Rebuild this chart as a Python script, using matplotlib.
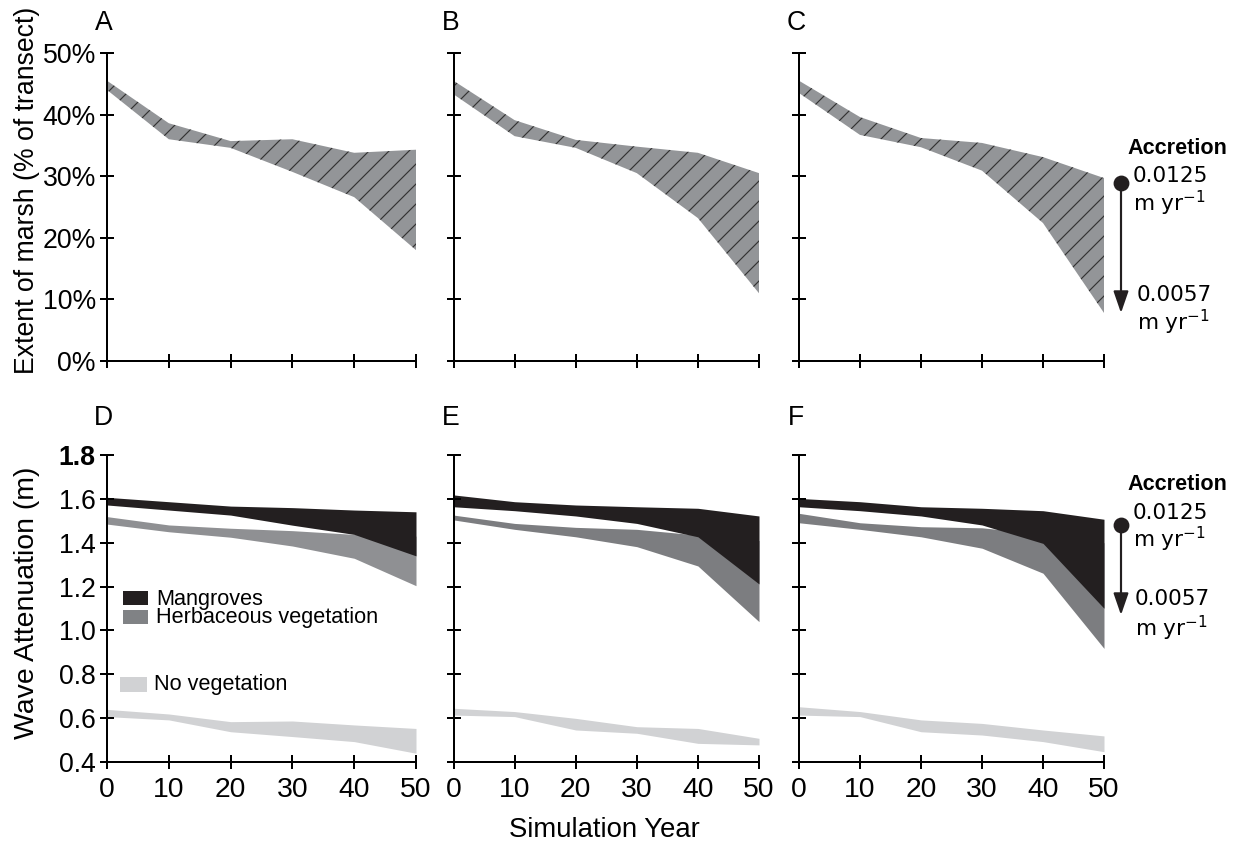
import matplotlib
matplotlib.use("Agg")
import matplotlib.pyplot as plt
from matplotlib.patches import Rectangle, FancyArrowPatch
from matplotlib.lines import Line2D
from matplotlib.ticker import FuncFormatter

W, H, DPI = 1243, 841, 120
plt.rcParams['font.family'] = ['Liberation Sans', 'DejaVu Sans']
plt.rcParams['hatch.color'] = '#333333'
plt.rcParams['hatch.linewidth'] = 0.7

years = [0, 10, 20, 30, 40, 50]

# extent of marsh (% of transect), band between high and low accretion
marsh_a_upper = [45.5, 38.6, 35.7, 36.0, 33.8, 34.3]
marsh_a_lower = [44.0, 36.0, 34.6, 30.7, 26.6, 18.0]
marsh_b_upper = [45.5, 39.1, 35.9, 34.8, 33.8, 30.5]
marsh_b_lower = [43.3, 36.5, 34.6, 30.5, 23.2, 11.0]
marsh_c_upper = [45.5, 39.6, 36.2, 35.4, 33.1, 29.7]
marsh_c_lower = [43.5, 36.7, 34.7, 30.9, 22.4, 7.8]

# wave attenuation (m)
mangrove_d_upper = [1.607, 1.587, 1.567, 1.560, 1.549, 1.541]
mangrove_d_lower = [1.572, 1.549, 1.526, 1.480, 1.438, 1.340]
mangrove_e_upper = [1.618, 1.587, 1.572, 1.564, 1.557, 1.522]
mangrove_e_lower = [1.564, 1.546, 1.522, 1.488, 1.427, 1.212]
mangrove_f_upper = [1.602, 1.587, 1.564, 1.557, 1.546, 1.507]
mangrove_f_lower = [1.564, 1.546, 1.522, 1.481, 1.397, 1.101]

herb_d_upper = [1.519, 1.481, 1.466, 1.455, 1.438, 1.430]
herb_d_lower = [1.485, 1.450, 1.425, 1.385, 1.329, 1.204]
herb_e_upper = [1.526, 1.488, 1.470, 1.461, 1.435, 1.410]
herb_e_lower = [1.504, 1.461, 1.427, 1.382, 1.294, 1.040]
herb_f_upper = [1.534, 1.491, 1.473, 1.468, 1.440, 1.400]
herb_f_lower = [1.491, 1.461, 1.427, 1.375, 1.261, 0.918]

noveg_d_upper = [0.640, 0.619, 0.584, 0.587, 0.569, 0.553]
noveg_d_lower = [0.607, 0.592, 0.538, 0.516, 0.493, 0.440]
noveg_e_upper = [0.645, 0.630, 0.599, 0.561, 0.553, 0.508]
noveg_e_lower = [0.614, 0.607, 0.546, 0.531, 0.485, 0.478]
noveg_f_upper = [0.652, 0.630, 0.592, 0.576, 0.546, 0.519]
noveg_f_lower = [0.614, 0.607, 0.538, 0.523, 0.493, 0.447]

marsh_ticks = [0, 10, 20, 30, 40, 50]
wave_ticks = [0.4, 0.6, 0.8, 1.0, 1.2, 1.4, 1.6, 1.8]

BLACK = '#231f20'
HERB = ['#8f9093', '#7c7d80', '#7c7d80']
NOVEG = '#d1d2d4'
MARSH = '#939598'


def px(x, y):
    return x / W, 1 - y / H


def style_axis(ax):
    for side in ['top', 'right']:
        ax.spines[side].set_visible(False)
    for side in ['left', 'bottom']:
        ax.spines[side].set_linewidth(1.2)
        ax.spines[side].set_color('black')
    ax.tick_params(direction='inout', length=8.4, width=1.2, labelsize=16)
    ax.tick_params(axis='y', pad=2.5)
    ax.tick_params(axis='x', pad=5)
    ax.set_xlim(0, 50)
    ax.set_xticks(years)


fig = plt.figure(figsize=(W / DPI, H / DPI), dpi=DPI)

cols = [(107, 309), (453.5, 305.5), (799, 305)]
top_axes = [fig.add_axes([l / W, (H - 361) / H, w / W, 308 / H]) for l, w in cols]
bot_axes = [fig.add_axes([l / W, (H - 762) / H, w / W, 307 / H]) for l, w in cols]

marsh = [(marsh_a_upper, marsh_a_lower), (marsh_b_upper, marsh_b_lower),
         (marsh_c_upper, marsh_c_lower)]
for i, ax in enumerate(top_axes):
    up, lo = marsh[i]
    ax.fill_between(years, lo, up, facecolor=MARSH, edgecolor='#333333',
                    hatch='//', linewidth=0)
    style_axis(ax)
    ax.set_ylim(0, 50)
    ax.set_yticks(marsh_ticks)
    ax.tick_params(axis='x', labelbottom=False)
    if i == 0:
        ax.yaxis.set_major_formatter(FuncFormatter(lambda v, p: f"{v:.0f}%"))
    else:
        ax.tick_params(axis='y', labelleft=False)
    ax.text(-0.01, 1.096, "ABC"[i], transform=ax.transAxes, ha='center',
            va='center', fontsize=16)

mang = [(mangrove_d_upper, mangrove_d_lower), (mangrove_e_upper, mangrove_e_lower),
        (mangrove_f_upper, mangrove_f_lower)]
herb = [(herb_d_upper, herb_d_lower), (herb_e_upper, herb_e_lower),
        (herb_f_upper, herb_f_lower)]
noveg = [(noveg_d_upper, noveg_d_lower), (noveg_e_upper, noveg_e_lower),
         (noveg_f_upper, noveg_f_lower)]
for i, ax in enumerate(bot_axes):
    ax.fill_between(years, noveg[i][1], noveg[i][0], color=NOVEG, linewidth=0)
    ax.fill_between(years, herb[i][1], herb[i][0], color=HERB[i], linewidth=0)
    ax.fill_between(years, mang[i][1], mang[i][0], color=BLACK, linewidth=0)
    style_axis(ax)
    ax.set_ylim(0.4, 1.8)
    ax.set_yticks(wave_ticks)
    ax.tick_params(axis='x', labelsize=17, pad=5)
    if i == 0:
        ax.set_yticklabels([f"{v:.1f}" for v in wave_ticks])
        ax.get_yticklabels()[-1].set_fontweight('bold')
    else:
        ax.tick_params(axis='y', labelleft=False)
    ax.text(-0.01, 1.12, "DEF"[i], transform=ax.transAxes, ha='center',
            va='center', fontsize=16)

# legend drawn by hand inside panel D
axd = bot_axes[0]
axd.add_patch(Rectangle((0.052, 0.511), 0.081, 0.046, transform=axd.transAxes,
                        color=BLACK, lw=0))
axd.add_patch(Rectangle((0.052, 0.4495), 0.081, 0.046, transform=axd.transAxes,
                        color='#808285', lw=0))
axd.add_patch(Rectangle((0.042, 0.228), 0.087, 0.049, transform=axd.transAxes,
                        color=NOVEG, lw=0))
axd.text(0.159, 0.513, "Mangroves", transform=axd.transAxes, fontsize=13,
         va='baseline')
axd.text(0.159, 0.452, "Herbaceous vegetation", transform=axd.transAxes,
         fontsize=13, va='baseline')
axd.text(0.152, 0.236, "No vegetation", transform=axd.transAxes, fontsize=13,
         va='baseline')

# axis titles
fig.text(*px(27, 190), "Extent of marsh (% of transect)", rotation=90,
         ha='center', va='center', fontsize=16)
fig.text(*px(27, 603), "Wave Attenuation (m)", rotation=90,
         ha='center', va='center', fontsize=17)
fig.text(*px(604, 830), "Simulation Year", ha='center', va='center', fontsize=16.5)


# accretion annotation next to panels C and F
def accretion(y_title, y_dot, y_tip, y_hi, y_hi_u, y_lo, y_lo_u, x_lo):
    fig.text(*px(1177, y_title), "Accretion", ha='center', va='center',
             fontsize=13, fontweight='bold')
    fig.add_artist(FancyArrowPatch(px(1121, y_dot), px(1121, y_tip),
                                   transform=fig.transFigure,
                                   arrowstyle='-|>,head_length=11,head_width=3.8',
                                   mutation_scale=1, lw=1.3, color=BLACK,
                                   shrinkA=0, shrinkB=0))
    fig.add_artist(Line2D([px(1121, y_dot)[0]], [px(1121, y_dot)[1]],
                          marker='o', markersize=8.5, color=BLACK,
                          transform=fig.transFigure))
    fig.text(*px(1133, y_hi), "0.0125", ha='left', va='center', fontsize=13,
             family='DejaVu Sans')
    fig.text(*px(1133, y_hi_u), r"m yr$^{-1}$", ha='left', va='center',
             fontsize=13, family='DejaVu Sans')
    fig.text(*px(x_lo, y_lo), "0.0057", ha='left', va='center', fontsize=13,
             family='DejaVu Sans')
    fig.text(*px(x_lo, y_lo_u), r"m yr$^{-1}$", ha='left', va='center',
             fontsize=13, family='DejaVu Sans')


accretion(148, 183, 313, 176, 203, 295, 322, 1137)
accretion(484, 525, 615, 513, 539, 599, 628, 1135)

fig.savefig("out.png", dpi=DPI)
